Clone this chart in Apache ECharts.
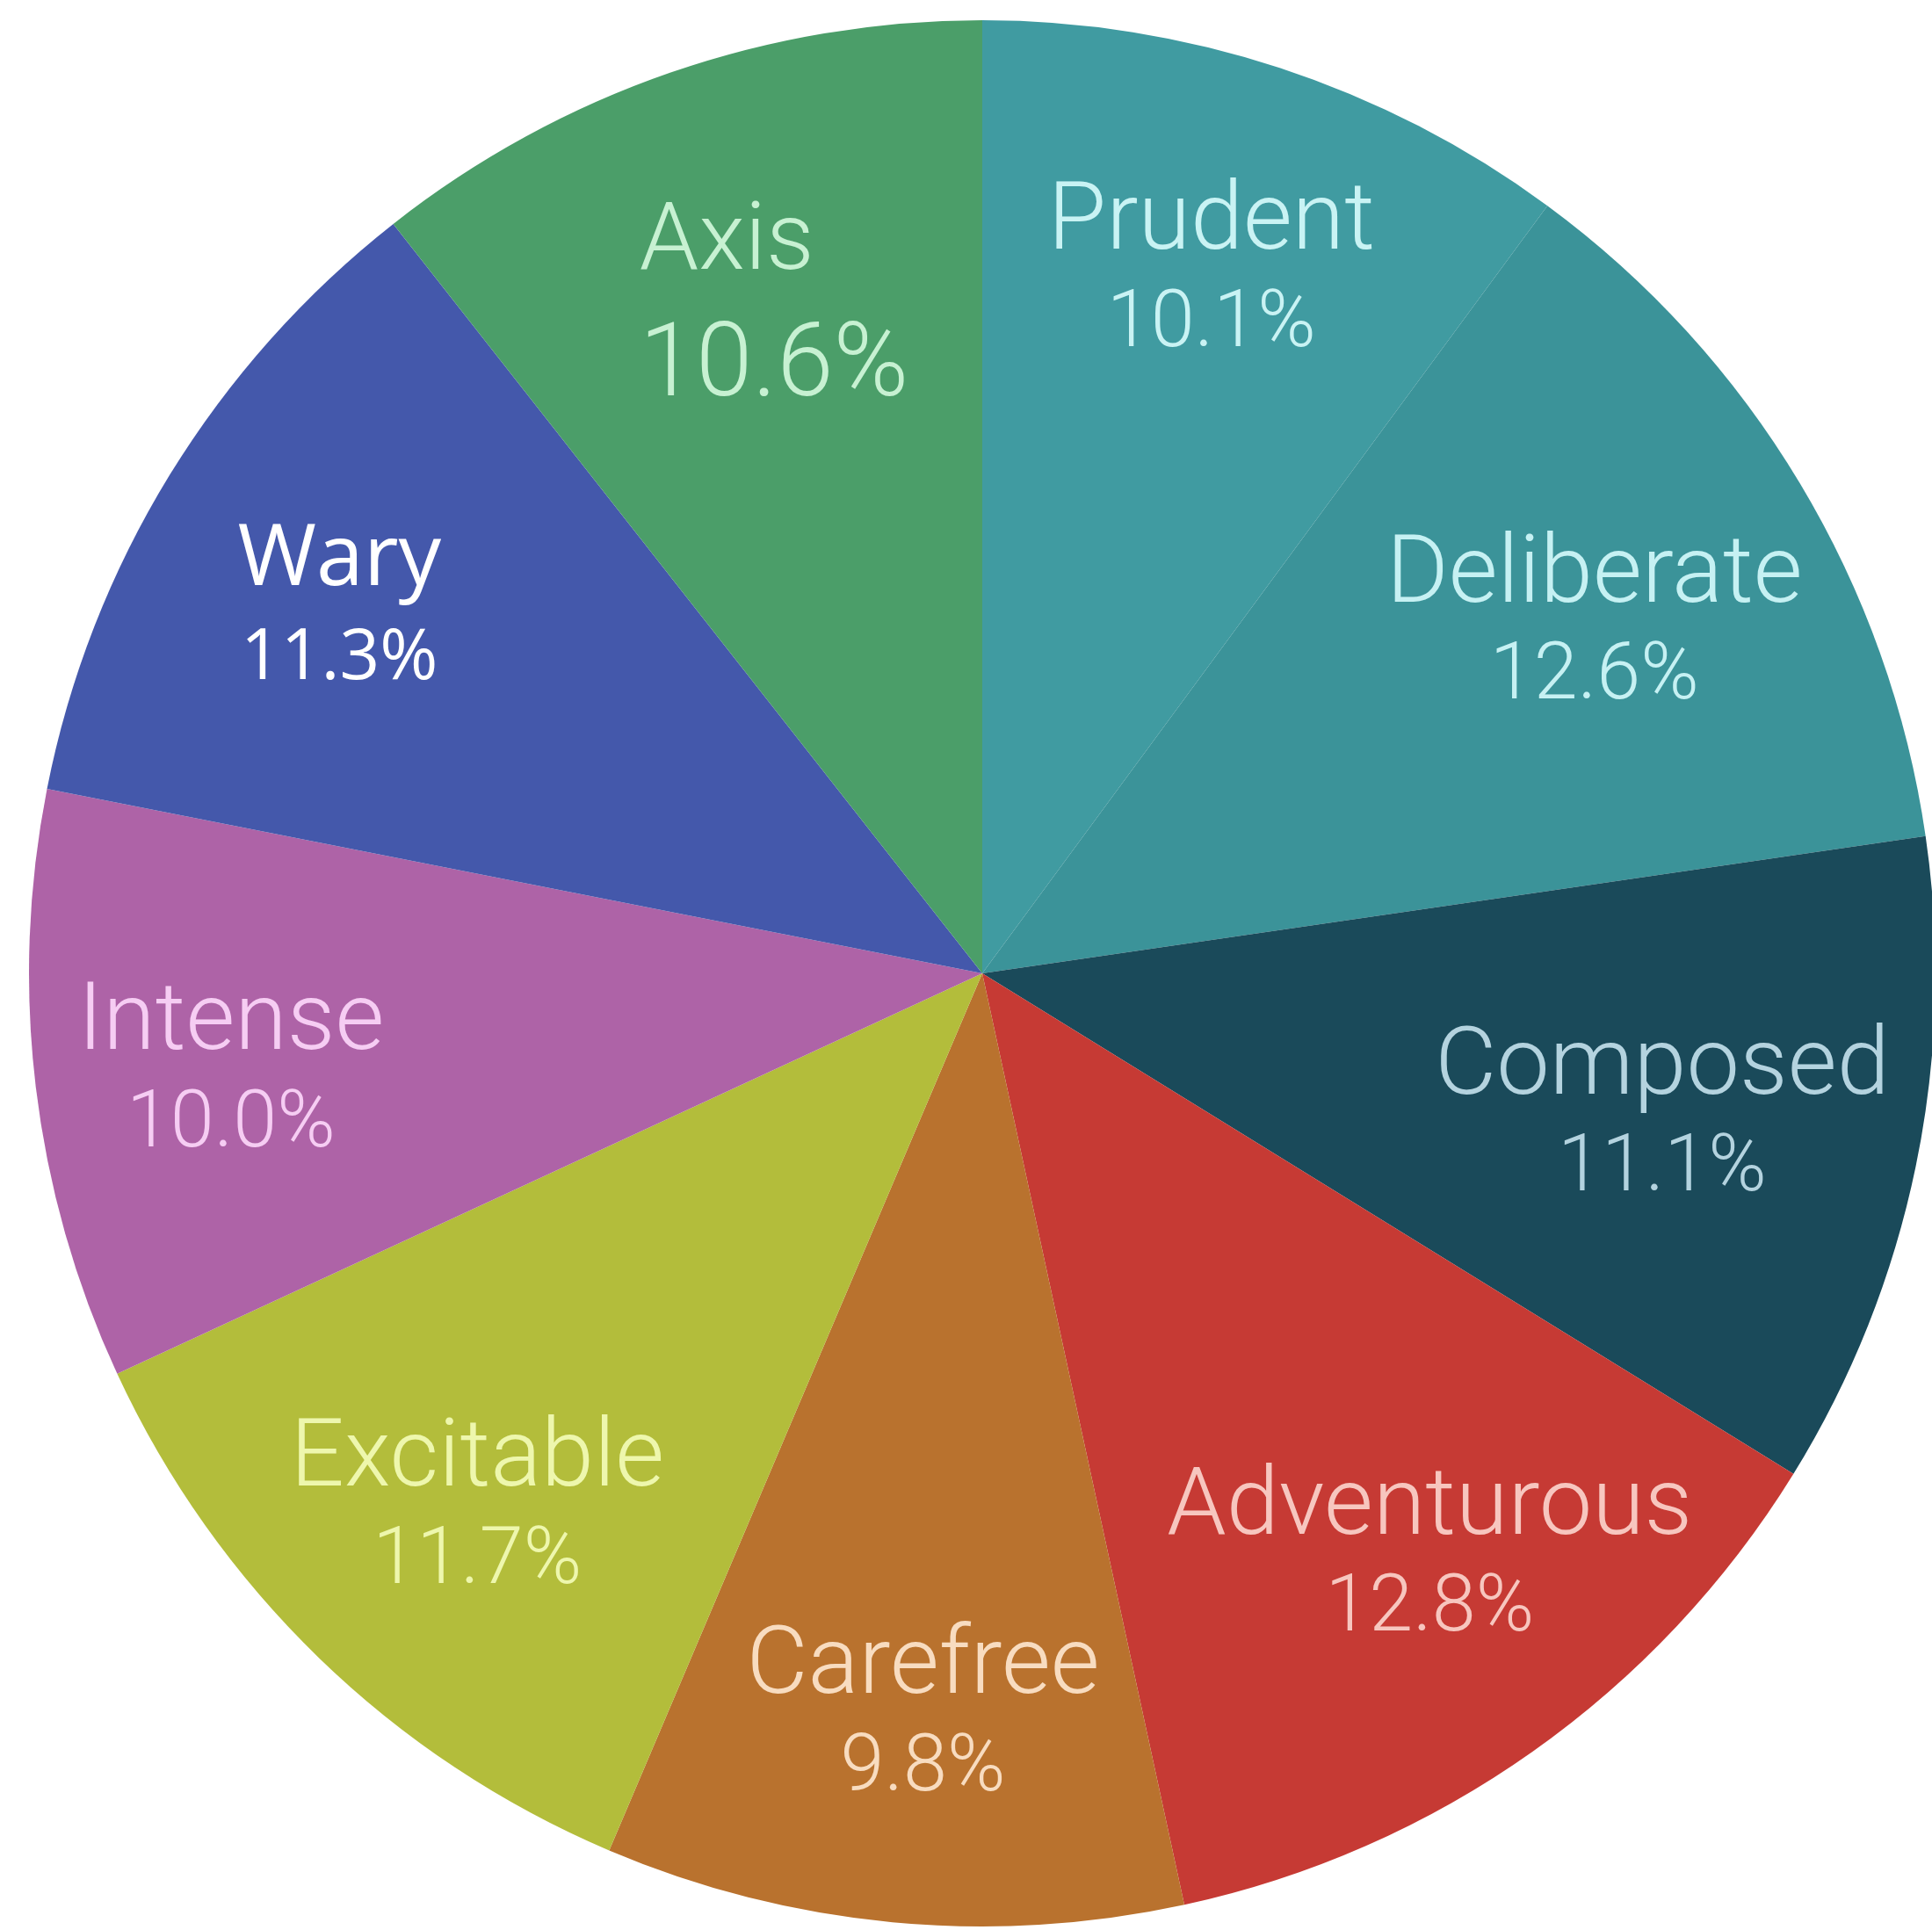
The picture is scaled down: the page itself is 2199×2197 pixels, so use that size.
<!DOCTYPE html>
<html>
<head>
<meta charset="utf-8">
<script src="https://cdn.jsdelivr.net/npm/echarts@6/dist/echarts.min.js"></script>
<style>
html,body{margin:0;padding:0;background:#ffffff;}
#chart{width:2199px;height:2197px;}
</style>
</head>
<body>
<div id="chart"></div>
<script>
// ---- data ----
const categories = ['Prudent','Deliberate','Composed','Adventurous','Carefree','Excitable','Intense','Wary','Axis'];
const values = [10.1, 12.6, 11.1, 12.8, 9.8, 11.7, 10.0, 11.3, 10.6];

// ---- styles ----
const sliceColors = ['#409ba1','#3b9399','#1a4a5a','#c63a34','#b9722e','#b3bd3b','#ae63a7','#4458ab','#4b9e69'];
const textColors  = ['#c9f3f4','#c6f1f3','#b4d3df','#f7c6bf','#f8dcc0','#eef7ad','#f6cdf3','#ffffff','#c7f1d2'];
const labelKeys = { Axis: ['na','pb'], Wary: ['wn','wp'] };
// small per-label placement adjustments (px) relative to the slice's label anchor
const labelNudge = [[4,-13],[-9,30],[-32,0],[34,-4],[10,30],[-2,22],[-38,18],[-30,16],[32,33]];

const chart = echarts.init(document.getElementById('chart'), null, {renderer:'canvas'});
const R = 1085;
const C = [1118, 1108];

const sliceData = categories.map((c,i)=>({name:c, value:values[i], itemStyle:{color:sliceColors[i]}}));
const labelData = categories.map((c,i)=>({name:c, value:values[i], label:{color:textColors[i]}}));

chart.setOption({
  animation:false,
  backgroundColor:'#ffffff',
  series:[
    {
      type:'pie',
      center:C,
      radius:[0,R],
      startAngle:90,
      clockwise:true,
      silent:true,
      label:{show:false},
      labelLine:{show:false},
      itemStyle:{borderWidth:0},
      data:sliceData
    },
    {
      type:'pie',
      center:C,
      radius:[555,R],
      startAngle:90,
      clockwise:true,
      silent:true,
      itemStyle:{color:'rgba(0,0,0,0)',borderWidth:0},
      labelLine:{show:false},
      labelLayout:function(p){
        const n = labelNudge[p.dataIndex] || [0,0];
        return {dx:n[0], dy:n[1]};
      },
      label:{
        show:true,
        position:'inside',
        rotate:0,
        align:'center',
        formatter:function(p){
          const k = labelKeys[p.name] || ['n','p'];
          return '{'+k[0]+'|'+p.name+'}\n{'+k[1]+'|'+p.value.toFixed(1)+'%}';
        },
        rich:{
          n:{fontFamily:'Roboto',fontWeight:300,fontSize:108,lineHeight:116,align:'center'},
          p:{fontFamily:'Roboto',fontWeight:300,fontSize:90,lineHeight:114,align:'center'},
          na:{fontFamily:'Roboto',fontWeight:300,fontSize:108,lineHeight:116,align:'left'},
          pb:{fontFamily:'Roboto',fontWeight:300,fontSize:116,lineHeight:168,align:'center'},
          wn:{fontFamily:'Open Sans',fontWeight:400,fontSize:97,lineHeight:112,align:'center'},
          wp:{fontFamily:'Open Sans',fontWeight:400,fontSize:80,lineHeight:112,align:'center'}
        }
      },
      data:labelData
    }
  ]
});
</script>
</body>
</html>
